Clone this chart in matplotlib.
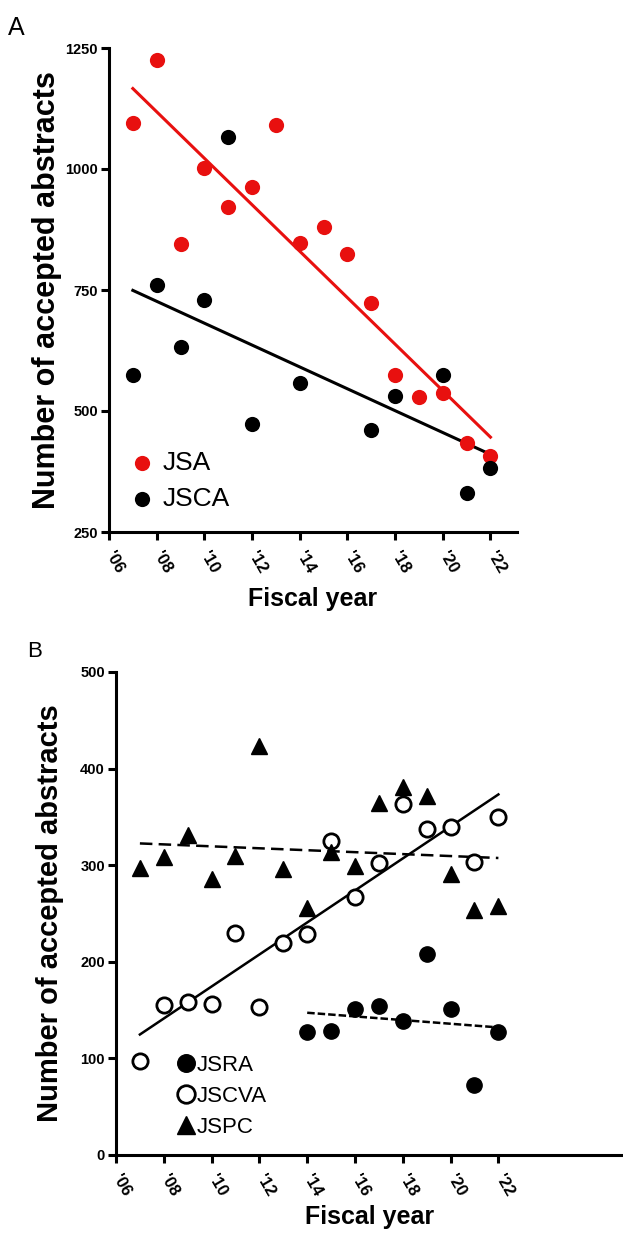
import numpy as np
import matplotlib
matplotlib.use("Agg")
import matplotlib.pyplot as plt

# Panel A data
years_a = np.arange(2007, 2023)
jsa = [1095, 1225, 845, 1002, 922, 963, 1091, 847, 880, 824, 723, 574, 529, 537, 434, 407]
jsca_years = [2007, 2008, 2009, 2010, 2011, 2012, 2014, 2017, 2018, 2020, 2021, 2022]
jsca = [574, 760, 632, 729, 1066, 473, 558, 461, 531, 574, 330, 382]

# Panel B data
years_b = np.arange(2007, 2023)
jspc = [297, 308, 331, 286, 310, 423, 296, 256, 314, 299, 364, 381, 372, 291, 254, 258]
jscva = [97, 155, 158, 156, 230, 153, 219, 229, 325, 267, 302, 363, 337, 340, 303, 350]
jsra_years = np.arange(2014, 2023)
jsra = [127, 128, 151, 154, 139, 208, 151, 72, 127]

tick_years = np.arange(2006, 2023, 2)
tick_labels = ["'%02d" % (y - 2000) for y in tick_years]

plt.rcParams['font.family'] = ['Liberation Sans', 'DejaVu Sans']

W, H = 623, 1233
fig = plt.figure(figsize=(W / 100, H / 100), dpi=100)


def fit_line(ax, x, y, **kw):
    x = np.asarray(x, dtype=float)
    k, b = np.polyfit(x, y, 1)
    xs = np.array([x.min(), x.max()])
    ax.plot(xs, k * xs + b, **kw)


def style_axes(ax, ylab_size, ylab_x, xpad):
    for s in ['top', 'right']:
        ax.spines[s].set_visible(False)
    for s in ['left', 'bottom']:
        ax.spines[s].set_linewidth(2.2)
    ax.tick_params(length=6, width=2.2, direction='out')
    ax.set_xticks(tick_years)
    ax.set_xticklabels(tick_labels, rotation=-60, ha='left', va='center',
                       rotation_mode='anchor', fontweight='bold', fontsize=12)
    ax.tick_params(axis='x', pad=9)
    ax.tick_params(axis='y', pad=2)
    for lab in ax.get_yticklabels():
        lab.set_fontweight('bold')
        lab.set_fontsize(10.5)
    ax.set_xlabel('Fiscal year', fontsize=18, fontweight='bold', labelpad=xpad)
    ax.set_ylabel('Number of accepted abstracts', fontsize=ylab_size, fontweight='bold')
    ax.yaxis.set_label_coords(ylab_x, 0.5)


# ---- Panel A ----
axA = fig.add_axes([109 / W, 1 - 532 / H, (517 - 109) / W, (532 - 48) / H])
axA.scatter(years_a, jsa, s=120, color='#e8100f', zorder=3, label='JSA', linewidths=0)
axA.scatter(jsca_years, jsca, s=120, color='black', zorder=3, label='JSCA', linewidths=0)
fit_line(axA, years_a, jsa, color='#e8100f', lw=2.2, zorder=2)
fit_line(axA, jsca_years, jsca, color='black', lw=2.2, zorder=2)
axA.set_xlim(2006, 2006 + (517 - 108) / 23.9)
axA.set_ylim(250, 1250)
axA.set_yticks([250, 500, 750, 1000, 1250])
style_axes(axA, 22, (62 - 109) / 408, 8)
axA.legend(loc='lower left', bbox_to_anchor=(0.0, 0.0), frameon=False,
           fontsize=19, handletextpad=0.35, labelspacing=0.45, borderaxespad=0.4,
           handlelength=0.9, scatterpoints=1)
fig.text(8 / W, 1 - 35 / H, 'A', fontsize=18)

# ---- Panel B ----
axB = fig.add_axes([116 / W, 1 - 1155 / H, (W - 116) / W, (1155 - 672) / H])
axB.plot(jsra_years, jsra, 'o', color='black', ms=11, zorder=3, label='JSRA')
axB.plot(years_b, jscva, 'o', mfc='white', mec='black', mew=2, ms=11, zorder=3, label='JSCVA')
axB.plot(years_b, jspc, '^', color='black', ms=11, zorder=3, label='JSPC')
fit_line(axB, years_b, jscva, color='black', lw=1.8, zorder=2)
fit_line(axB, years_b, jspc, color='black', lw=1.8, ls=(0, (5, 2.5)), zorder=2)
fit_line(axB, jsra_years, jsra, color='black', lw=1.8, ls=(0, (3, 1.2)), zorder=2)
axB.set_xlim(2006, 2006 + (W - 116) / 23.9)
axB.set_ylim(0, 500)
axB.set_yticks([0, 100, 200, 300, 400, 500])
style_axes(axB, 21, (64 - 116) / 507, 4)
axB.legend(loc='lower left', bbox_to_anchor=(0.085, 0.003), frameon=False,
           fontsize=16, handletextpad=0.0, labelspacing=0.45, borderaxespad=0.3,
           handlelength=1.0, markerscale=1.15)
fig.text(27 / W, 1 - 657 / H, 'B', fontsize=16)

fig.savefig('out.png', dpi=100, facecolor='white')
